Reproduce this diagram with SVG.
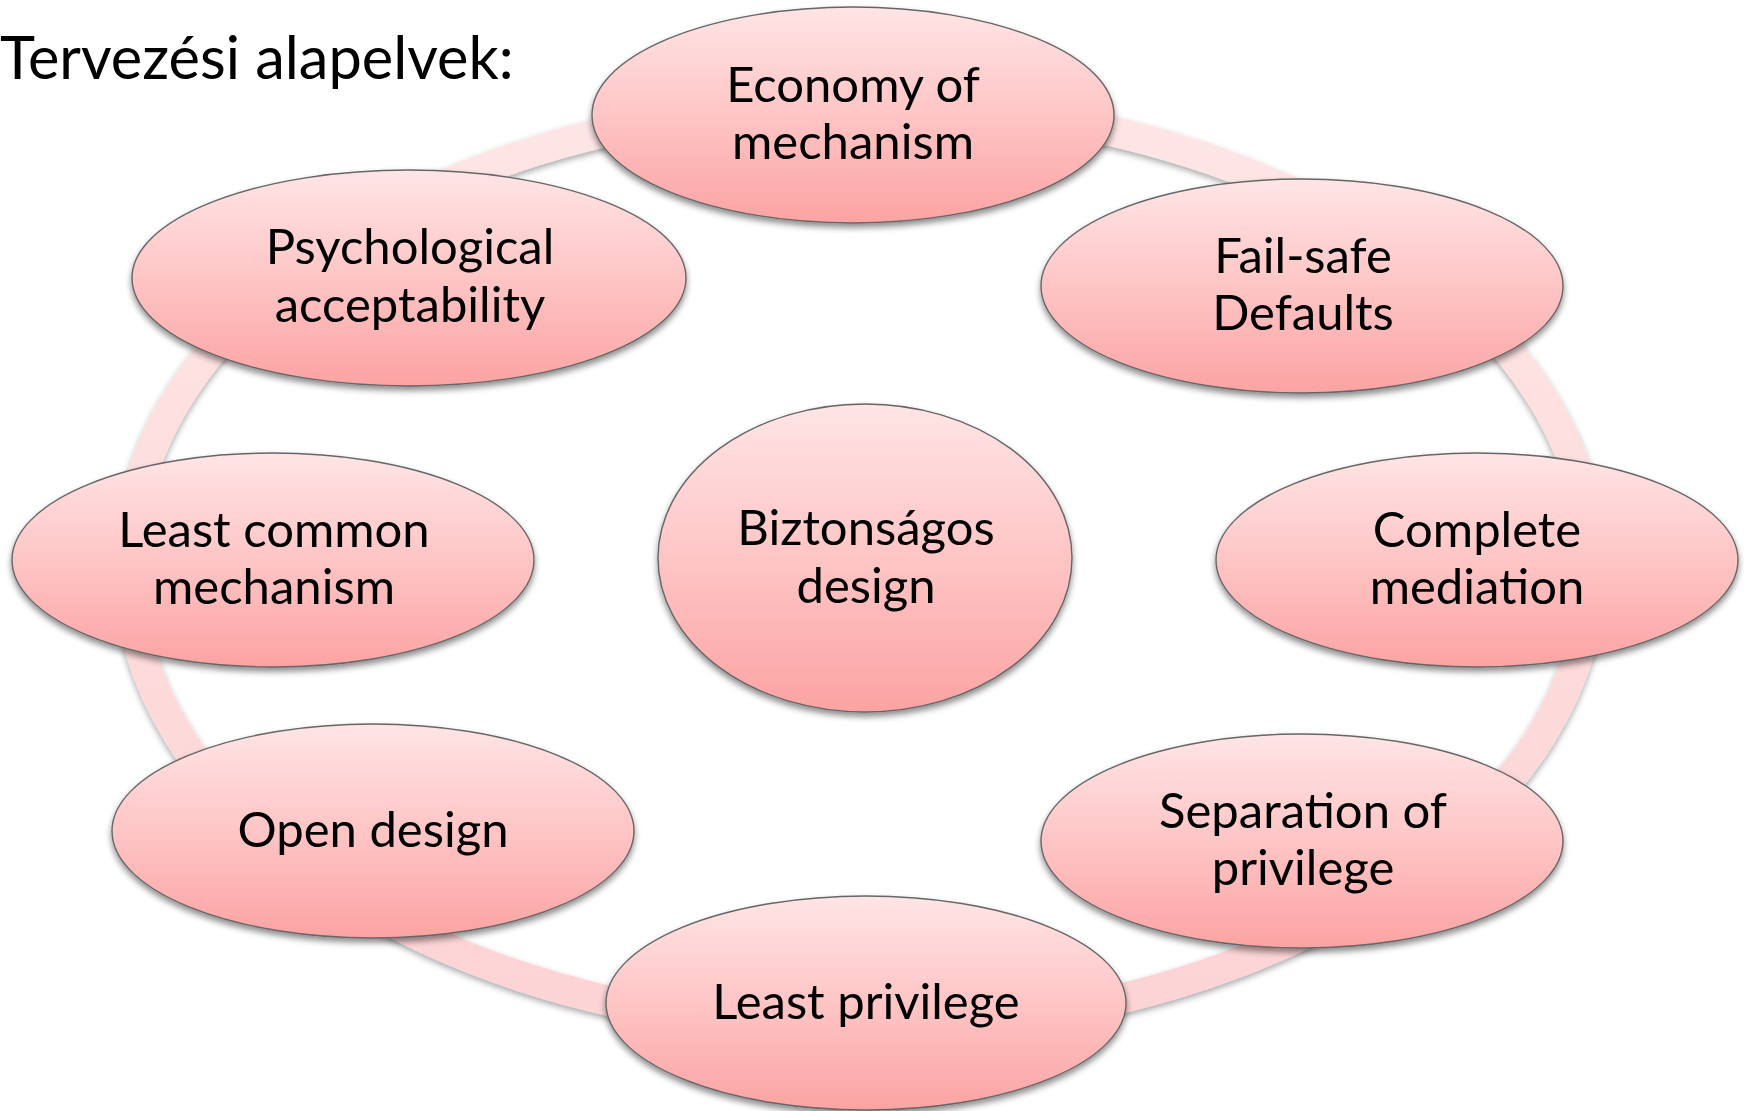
<svg xmlns="http://www.w3.org/2000/svg" width="1744" height="1111" viewBox="0 0 1744 1111">
<defs>
<linearGradient id="nodeFill" x1="0" y1="0" x2="0" y2="1">
<stop offset="0" stop-color="#ffe5e6"/>
<stop offset="0.5" stop-color="#fec5c5"/>
<stop offset="1" stop-color="#fca3a3"/>
</linearGradient>
<linearGradient id="ringFill" gradientUnits="userSpaceOnUse" x1="0" y1="100" x2="0" y2="1035">
<stop offset="0" stop-color="#fee6e6"/>
<stop offset="1" stop-color="#fdd3d4"/>
</linearGradient>
<filter id="shadow" x="-10%" y="-10%" width="120%" height="125%">
<feDropShadow dx="0" dy="4" stdDeviation="3" flood-color="#000" flood-opacity="0.45"/>
</filter>
<filter id="ringShadow" x="-5%" y="-5%" width="110%" height="112%">
<feDropShadow dx="0" dy="3" stdDeviation="3" flood-color="#000" flood-opacity="0.35"/>
</filter>
</defs>
<style>
.node { fill: url(#nodeFill); stroke: #666666; stroke-width: 1.4; filter: url(#shadow); }
.label { font-family: Lato, "Open Sans", "Liberation Sans", sans-serif; font-size: 49px; fill: #000000; text-anchor: middle; }
.title { font-family: Lato, "Open Sans", "Liberation Sans", sans-serif; font-size: 59.5px; fill: #000000; }
.ring { fill: none; stroke: url(#ringFill); stroke-width: 30; filter: url(#ringShadow); }
</style>
<rect x="0" y="0" width="1744" height="1111" fill="#ffffff"/>
<text class="title" x="0" y="79">Tervezési alapelvek:</text>
<g id="connectors">
<ellipse class="ring" cx="860" cy="566" rx="732" ry="463"/>
</g>
<g id="node-economy">
<ellipse class="node" cx="853" cy="115" rx="261" ry="108"/>
<text class="label" x="853" y="102">Economy of</text>
<text class="label" x="853" y="159">mechanism</text>
</g>
<g id="node-failsafe">
<ellipse class="node" cx="1302" cy="286" rx="261" ry="107"/>
<text class="label" x="1303" y="273">Fail-safe</text>
<text class="label" x="1303" y="330">Defaults</text>
</g>
<g id="node-complete">
<ellipse class="node" cx="1477" cy="560" rx="261" ry="107"/>
<text class="label" x="1477" y="547">Complete</text>
<text class="label" x="1477" y="604">mediation</text>
</g>
<g id="node-separation">
<ellipse class="node" cx="1302" cy="841" rx="261" ry="107"/>
<text class="label" x="1303" y="828">Separation of</text>
<text class="label" x="1303" y="885">privilege</text>
</g>
<g id="node-leastprivilege">
<ellipse class="node" cx="866" cy="1003" rx="260" ry="107"/>
<text class="label" x="866" y="1019">Least privilege</text>
</g>
<g id="node-opendesign">
<ellipse class="node" cx="373" cy="831" rx="261" ry="107"/>
<text class="label" x="373" y="847">Open design</text>
</g>
<g id="node-leastcommon">
<ellipse class="node" cx="273" cy="560" rx="261" ry="107"/>
<text class="label" x="274" y="547">Least common</text>
<text class="label" x="274" y="604">mechanism</text>
</g>
<g id="node-psych">
<ellipse class="node" cx="409" cy="278" rx="277" ry="108"/>
<text class="label" x="410" y="264">Psychological</text>
<text class="label" x="410" y="322">acceptability</text>
</g>
<g id="node-center">
<ellipse class="node" cx="865" cy="558" rx="207" ry="154"/>
<text class="label" x="866" y="545">Biztonságos</text>
<text class="label" x="866" y="603">design</text>
</g>
</svg>
